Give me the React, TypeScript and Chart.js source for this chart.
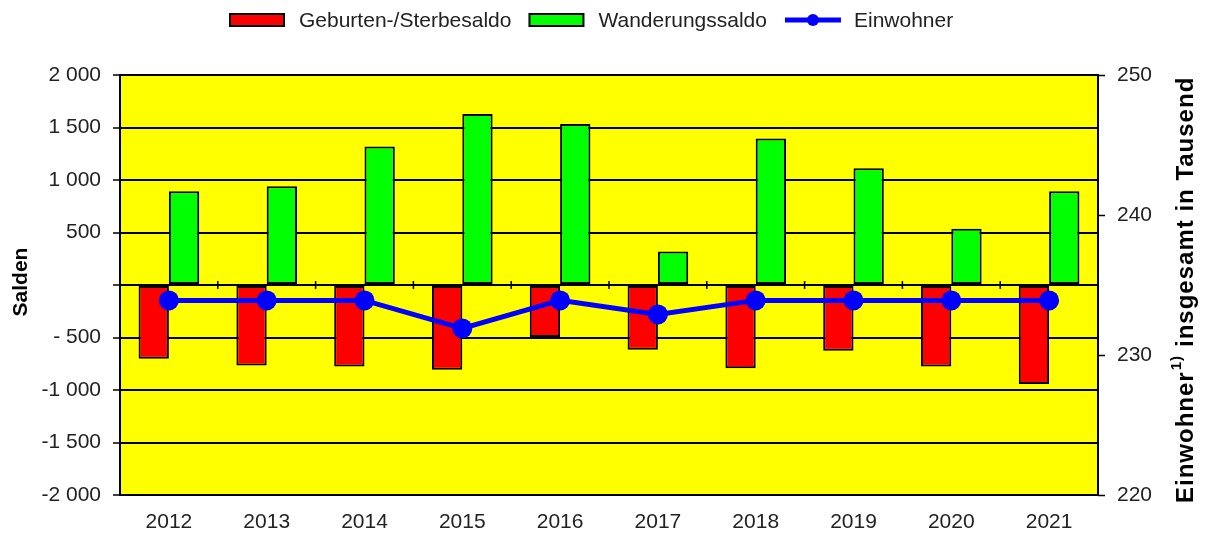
import React, { useEffect, useRef } from 'react';
import { Chart, registerables } from 'chart.js';

Chart.register(...registerables);

const years = ['2012', '2013', '2014', '2015', '2016', '2017', '2018', '2019', '2020', '2021'];
const geburtenSaldo = [-702, -766, -776, -808, -495, -616, -792, -626, -776, -942];
const wanderungsSaldo = [894, 941, 1319, 1628, 1533, 319, 1396, 1111, 536, 894];
const einwohner = [233.9, 233.9, 233.9, 231.9, 233.9, 232.9, 233.9, 233.9, 233.9, 233.9];

const leftTickValues = [-2000, -1500, -1000, -500, 0, 500, 1000, 1500, 2000];
const leftTickLabels = ['-2 000', '-1 500', '-1 000', '- 500', '', '500', '1 000', '1 500', '2 000'];
const rightTickValues = [220, 230, 240, 250];
const rightTickLabels = ['220', '230', '240', '250'];

const legendLabels = ['Geburten-/Sterbesaldo', 'Wanderungssaldo', 'Einwohner'];
const leftTitle = 'Salden';
const rightTitleMain = 'Einwohner';
const rightTitleSup = '1)';
const rightTitleRest = 'insgesamt in Tausend';

const FONT = '"Liberation Sans", Arial, Helvetica, sans-serif';
const TEXT = '#222222';
const RED = '#FF0000';
const GREEN = '#00FF00';
const BLUE = '#0000FF';
const YELLOW = '#FFFF00';

const decorPlugin = {
  id: 'decor',
  beforeDraw(chart: any) {
    const { ctx, chartArea: a } = chart;
    ctx.save();
    ctx.fillStyle = YELLOW;
    ctx.fillRect(a.left, a.top, a.right - a.left, a.bottom - a.top);
    ctx.restore();
  },
  afterDraw(chart: any) {
    const { ctx, chartArea: a } = chart;
    const xs = chart.scales.x;
    const ys = chart.scales.y;
    ctx.save();
    // plot border
    ctx.strokeStyle = '#000';
    ctx.lineWidth = 2;
    ctx.strokeRect(a.left, a.top, a.right - a.left, a.bottom - a.top);
    // category boundary ticks on zero line
    const y0 = ys.getPixelForValue(0);
    ctx.lineWidth = 1.5;
    for (let i = 1; i < years.length; i++) {
      const x = (xs.getPixelForValue(i - 1) + xs.getPixelForValue(i)) / 2;
      ctx.beginPath();
      ctx.moveTo(x, y0 - 4);
      ctx.lineTo(x, y0 + 4);
      ctx.stroke();
    }
    // legend
    ctx.font = `21px ${FONT}`;
    ctx.textBaseline = 'middle';
    ctx.textAlign = 'left';
    let x = 230;
    const ly = 20;
    const colors = [RED, GREEN];
    for (let i = 0; i < 2; i++) {
      ctx.fillStyle = colors[i];
      ctx.fillRect(x, ly - 6, 54, 12);
      ctx.strokeStyle = '#000';
      ctx.lineWidth = 2;
      ctx.strokeRect(x, ly - 6, 54, 12);
      ctx.fillStyle = TEXT;
      ctx.fillText(legendLabels[i], x + 69, ly + 1);
      x = x + 69 + ctx.measureText(legendLabels[i]).width + 18;
    }
    ctx.strokeStyle = BLUE;
    ctx.lineWidth = 5;
    ctx.beginPath();
    ctx.moveTo(x, ly);
    ctx.lineTo(x + 56, ly);
    ctx.stroke();
    ctx.fillStyle = BLUE;
    ctx.beginPath();
    ctx.arc(x + 28, ly, 6, 0, Math.PI * 2);
    ctx.fill();
    ctx.fillStyle = TEXT;
    ctx.fillText(legendLabels[2], x + 69, ly + 1);

    // left title
    ctx.save();
    ctx.translate(27, 282);
    ctx.rotate(-Math.PI / 2);
    ctx.font = `bold 21px ${FONT}`;
    ctx.textAlign = 'center';
    ctx.textBaseline = 'alphabetic';
    ctx.fillStyle = '#000';
    ctx.fillText(leftTitle, 0, 0);
    ctx.restore();

    // right title
    ctx.save();
    ctx.translate(1193, 503);
    ctx.rotate(-Math.PI / 2);
    ctx.textAlign = 'left';
    ctx.textBaseline = 'alphabetic';
    ctx.fillStyle = '#000';
    (ctx as any).letterSpacing = '1px';
    ctx.font = `bold 24px ${FONT}`;
    ctx.fillText(rightTitleMain, 0, 0);
    let tx = ctx.measureText(rightTitleMain).width + 1;
    ctx.font = `bold 15px ${FONT}`;
    ctx.fillText(rightTitleSup, tx, -12);
    tx += ctx.measureText(rightTitleSup).width + 8;
    ctx.font = `bold 24px ${FONT}`;
    ctx.fillText(rightTitleRest, tx, 0);
    ctx.restore();

    ctx.restore();
  },
};

export default function App() {
  const ref = useRef<HTMLCanvasElement | null>(null);
  useEffect(() => {
    if (!ref.current) return;
    const chart = new Chart(ref.current, {
      type: 'bar',
      data: {
        labels: years,
        datasets: [
          {
            type: 'line',
            label: legendLabels[2],
            data: einwohner,
            yAxisID: 'y1',
            borderColor: BLUE,
            backgroundColor: BLUE,
            borderWidth: 5,
            pointRadius: 10,
            pointBackgroundColor: BLUE,
            pointBorderColor: BLUE,
            pointBorderWidth: 0,
            order: 0,
          } as any,
          {
            label: legendLabels[0],
            data: geburtenSaldo,
            yAxisID: 'y',
            backgroundColor: RED,
            borderColor: '#000',
            borderWidth: 2,
            borderSkipped: false,
            barPercentage: 1,
            categoryPercentage: 0.62,
            order: 1,
          },
          {
            label: legendLabels[1],
            data: wanderungsSaldo,
            yAxisID: 'y',
            backgroundColor: GREEN,
            borderColor: '#000',
            borderWidth: 2,
            borderSkipped: false,
            barPercentage: 1,
            categoryPercentage: 0.62,
            order: 1,
          },
        ],
      },
      options: {
        animation: false,
        responsive: true,
        maintainAspectRatio: false,
        layout: { padding: { top: 75, left: 0, right: 0, bottom: 0 } },
        plugins: { legend: { display: false }, tooltip: { enabled: false } },
        scales: {
          x: {
            grid: { display: false },
            border: { display: false },
            ticks: { color: TEXT, font: { family: FONT, size: 21 }, padding: 7 },
            afterFit: (s: any) => { s.height = 40; },
          },
          y: {
            position: 'left',
            min: -2000,
            max: 2000,
            afterBuildTicks: (s: any) => { s.ticks = leftTickValues.map((v) => ({ value: v })); },
            grid: { color: '#000', lineWidth: 2, tickLength: 7, tickColor: '#000', tickWidth: 1.5 },
            border: { display: false },
            ticks: {
              color: TEXT,
              font: { family: FONT, size: 21 },
              padding: 12,
              callback: (v: any) => {
                const i = leftTickValues.indexOf(Number(v));
                return i >= 0 ? leftTickLabels[i] : '';
              },
            },
            afterFit: (s: any) => { s.width = 120; },
          },
          y1: {
            position: 'right',
            min: 220,
            max: 250,
            afterBuildTicks: (s: any) => { s.ticks = rightTickValues.map((v) => ({ value: v })); },
            grid: { drawOnChartArea: false, tickLength: 7, tickColor: '#000', tickWidth: 1.5 },
            border: { display: false },
            ticks: {
              color: TEXT,
              font: { family: FONT, size: 21 },
              padding: 12,
              callback: (v: any) => {
                const i = rightTickValues.indexOf(Number(v));
                return i >= 0 ? rightTickLabels[i] : '';
              },
            },
            afterFit: (s: any) => { s.width = 110; },
          },
        },
      },
      plugins: [decorPlugin],
    });
    return () => chart.destroy();
  }, []);
  return (
    <div style={{ position: 'fixed', left: 0, top: 0, width: 1208, height: 535, background: '#fff' }}>
      <canvas ref={ref} />
    </div>
  );
}
